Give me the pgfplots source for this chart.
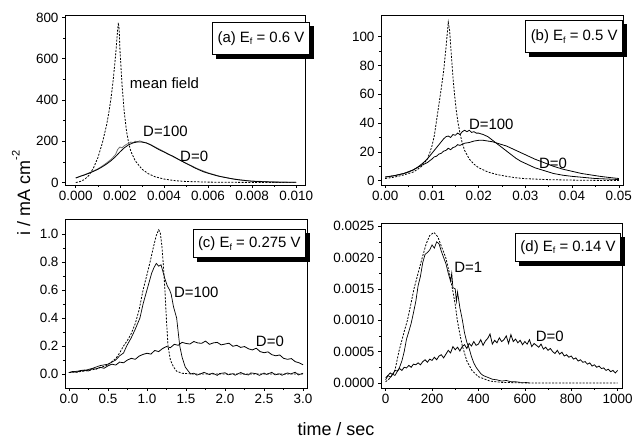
\documentclass[border=0pt]{standalone}
\usepackage{fontspec}
\setmainfont{Liberation Sans}
\usepackage{pgfplots}
\pgfplotsset{compat=1.18}

\pgfplotsset{
  panel/.style={
    scale only axis, anchor=south west,
    axis line style={line width=0.8bp},
    tick style={line width=0.6bp, black},
    major tick length=3bp, minor tick length=2bp,
    tick align=outside,
    xtick pos=left, ytick pos=left,
    ticklabel style={font=\fontsize{13.5}{13.5}\selectfont},
    /pgf/number format/assume math mode=true,
    /pgf/number format/1000 sep={},
    scaled ticks=false,
    clip mode=individual,
    minor x tick num=1, minor y tick num=1,
  },
  meanf/.style={black, line width=0.8bp, dash pattern=on 2bp off 1.4bp},
  solidc/.style={black, line width=0.8bp},
}
\tikzset{
  ebox/.style={draw, line width=0.9bp, fill=white, font=\fontsize{15}{15}\selectfont,
    inner xsep=5bp, inner ysep=7bp, anchor=north east},
  lab/.style={font=\fontsize{15}{15}\selectfont, inner sep=0pt, anchor=west},
}
\newcommand{\Ef}{E\raisebox{-0.35ex}{\fontsize{9}{9}\selectfont f}}
% #1 = extra options, #2 = position, #3 = text
\newcommand{\shadowbox}[3]{%
  \node[ebox, #1, fill=black, xshift=4bp, yshift=-4bp] at (#2) {\phantom{#3}};
  \node[ebox, #1] at (#2) {#3};}

\begin{document}
\begin{tikzpicture}
\useasboundingbox (0bp,0bp) rectangle (636bp,440bp);

% ---------------- (a)
\begin{axis}[panel, at={(65bp,255bp)}, width=240bp, height=170bp,
  xmin=-0.00049, xmax=0.0104, ymin=-12, ymax=812,
  xtick={0,0.002,0.004,0.006,0.008,0.01}, ytick={0,200,400,600,800},
  xticklabel style={/pgf/number format/fixed, /pgf/number format/fixed zerofill, /pgf/number format/precision=3}]
\addplot[meanf] coordinates {
(0,0) (0.0002,5) (0.0004,15) (0.0006,35) (0.0008,70) (0.001,120) (0.0012,190)
(0.0014,280) (0.0015,340) (0.0016,410) (0.0017,500) (0.0018,610) (0.0019,740)
(0.00193,775) (0.00197,740) (0.002,650) (0.0021,470) (0.0022,340) (0.0023,250)
(0.0024,190) (0.0025,150) (0.0027,105) (0.003,65) (0.0033,42) (0.0036,28)
(0.004,17) (0.0045,9) (0.005,5) (0.006,2) (0.007,1) (0.008,0.5) (0.01,0)};
\addplot[black!55, line width=0.8bp] coordinates {
(0,22) (0.0004,38) (0.0008,56) (0.001,66) (0.0012,80) (0.0014,95) (0.0016,112)
(0.0018,135) (0.0019,160) (0.002,172) (0.0021,168) (0.0022,178) (0.0023,185)
(0.0024,190) (0.0025,196) (0.0026,193) (0.0027,200) (0.0028,197) (0.0029,202)
(0.003,198) (0.0032,192) (0.0034,184) (0.0036,172) (0.004,150) (0.0045,120)
(0.005,94) (0.0055,68) (0.006,47) (0.0065,31) (0.007,20) (0.0075,12) (0.008,7)
(0.009,3) (0.01,1)};
\addplot[solidc] coordinates {
(0,22) (0.0002,30) (0.0004,37) (0.0006,45) (0.0008,54) (0.001,64) (0.0012,76)
(0.0014,90) (0.0016,106) (0.0018,125) (0.002,148) (0.0022,168) (0.0024,183)
(0.0026,192) (0.0028,197) (0.003,196) (0.0032,192) (0.0034,182) (0.0036,170)
(0.0038,158) (0.004,148) (0.0042,137) (0.0044,128) (0.0046,116) (0.0048,104)
(0.005,93) (0.0052,82) (0.0054,71) (0.0056,61) (0.0058,52) (0.006,45)
(0.0062,39) (0.0064,33) (0.0066,28) (0.0068,24) (0.007,20) (0.0072,16)
(0.0075,12) (0.008,6) (0.0085,4) (0.009,2) (0.0095,1.5) (0.01,1)};
\node[lab] at (axis cs:0.00245,483) {mean field};
\node[lab] at (axis cs:0.00305,250) {D=100};
\node[lab] at (axis cs:0.00473,129) {D=0};
\shadowbox{inner ysep=9bp}{rel axis cs:1.02,0.96}{(a) \Ef{} = 0.6 V}
\end{axis}

% ---------------- (b)
\begin{axis}[panel, at={(381bp,255bp)}, width=242bp, height=170bp,
  xmin=-0.0009, xmax=0.0509, ymin=-3, ymax=115,
  xtick={0,0.01,0.02,0.03,0.04,0.05}, ytick={0,20,40,60,80,100},
  xticklabel style={/pgf/number format/fixed, /pgf/number format/fixed zerofill, /pgf/number format/precision=2}]
\addplot[meanf] coordinates {
(0,1.5) (0.002,2.5) (0.004,4) (0.006,6) (0.007,8) (0.008,10.5) (0.009,15)
(0.0095,19) (0.01,24) (0.0105,31) (0.011,42) (0.0115,53) (0.012,64) (0.0125,76)
(0.013,92) (0.0135,110) (0.0138,104) (0.0142,85) (0.0145,72) (0.0148,61)
(0.0152,49) (0.0156,40) (0.016,33) (0.0165,26) (0.017,21) (0.018,15)
(0.019,11.5) (0.02,9) (0.022,6) (0.024,4.2) (0.026,3) (0.028,2) (0.03,1.4)
(0.035,0.7) (0.04,0.4) (0.045,0.2) (0.05,0.1)};
\addplot[solidc] coordinates {
(0,2.5) (0.002,3.5) (0.004,5) (0.005,6) (0.006,7.5) (0.007,9.5) (0.008,12)
(0.009,15) (0.01,19) (0.011,23) (0.012,27) (0.0125,29) (0.013,30.5) (0.0135,31)
(0.014,30) (0.0145,32) (0.015,31.5) (0.0155,33) (0.016,32) (0.0165,34) (0.017,35)
(0.0175,34) (0.018,35) (0.0185,33.5) (0.019,34) (0.0195,33) (0.02,33) (0.021,32)
(0.022,30.5) (0.023,28) (0.024,25.5) (0.025,23) (0.026,20.5) (0.027,18)
(0.028,15.5) (0.029,13.5) (0.03,12) (0.032,9) (0.034,7) (0.036,5) (0.038,3.8)
(0.04,3) (0.045,1.5) (0.05,0.8)};
\addplot[solidc] coordinates {
(0,2.5) (0.002,3.5) (0.004,5) (0.006,7.5) (0.008,11) (0.009,12.5) (0.01,15)
(0.0105,16.5) (0.011,17) (0.0115,18.5) (0.012,19) (0.0125,20.5) (0.013,21)
(0.0135,22.5) (0.014,21.5) (0.0145,23) (0.015,23.5) (0.0155,25) (0.016,24.5)
(0.017,26) (0.018,26.5) (0.019,27.5) (0.02,28) (0.021,28) (0.022,27.5)
(0.023,27) (0.024,26) (0.025,25) (0.026,24) (0.027,22.5) (0.028,21) (0.029,19.5)
(0.03,18) (0.032,15) (0.034,12.5) (0.036,10) (0.038,8) (0.04,6.5) (0.042,5)
(0.044,4) (0.046,3) (0.048,2.2) (0.05,1.5)};
\node[lab] at (axis cs:0.0179,39.4) {D=100};
\node[lab] at (axis cs:0.0329,12) {D=0};
\shadowbox{inner ysep=9bp}{rel axis cs:1.0,0.97}{(b) \Ef{} = 0.5 V}
\end{axis}

% ---------------- (c)
\begin{axis}[panel, at={(65bp,52bp)}, width=242bp, height=169bp,
  xmin=-0.05, xmax=3.05, ymin=-0.1, ymax=1.107,
  xtick={0,0.5,1,1.5,2,2.5,3}, ytick={0,0.2,0.4,0.6,0.8,1},
  xticklabel style={/pgf/number format/fixed, /pgf/number format/fixed zerofill, /pgf/number format/precision=1},
  yticklabel style={/pgf/number format/fixed, /pgf/number format/fixed zerofill, /pgf/number format/precision=1}]
\addplot[meanf] coordinates {
(0,0.01) (0.2,0.02) (0.3,0.03) (0.4,0.045) (0.5,0.065) (0.6,0.11) (0.65,0.15)
(0.7,0.2) (0.75,0.24) (0.8,0.29) (0.85,0.36) (0.9,0.46) (0.95,0.6) (1.0,0.71)
(1.04,0.8) (1.08,0.9) (1.12,0.99) (1.15,1.03) (1.17,1.01) (1.19,0.92)
(1.21,0.78) (1.23,0.6) (1.25,0.38) (1.27,0.2) (1.3,0.1) (1.34,0.05)
(1.38,0.02) (1.45,0.005) (1.6,0) (3.0,0)};
\addplot[solidc, line width=0.7bp] coordinates {
(0,0.01) (0.1,0.02) (0.2,0.025) (0.3,0.04) (0.4,0.06) (0.5,0.07) (0.6,0.1)
(0.65,0.13) (0.7,0.15) (0.74,0.2) (0.8,0.26) (0.85,0.32) (0.91,0.4) (0.95,0.5)
(1.0,0.6) (1.03,0.66) (1.06,0.72) (1.09,0.76) (1.12,0.79) (1.15,0.77)
(1.18,0.78) (1.2,0.74) (1.23,0.68) (1.26,0.63) (1.29,0.6) (1.31,0.57)
(1.34,0.48) (1.38,0.4) (1.4,0.3) (1.42,0.2) (1.45,0.12) (1.49,0.05) (1.53,0.02)
(1.56,0.0) (1.6,0.006) (1.64,-0.008) (1.7,0.004) (1.73,0.012) (1.8,-0.004)
(1.84,0.006) (1.9,-0.01) (1.93,0.003) (2.0,0.009) (2.04,-0.006) (2.1,0.002)
(2.13,-0.009) (2.2,0.011) (2.24,0.0) (2.3,-0.007) (2.33,0.008) (2.4,0.002)
(2.44,-0.01) (2.5,0.007) (2.53,-0.003) (2.6,0.012) (2.64,-0.006) (2.7,0.001)
(2.73,-0.009) (2.8,0.008) (2.84,0.0) (2.9,0.013) (2.94,-0.007) (3.0,0.006)};
\addplot[solidc] coordinates {
(0,0.01) (0.05,0.018) (0.1,0.012) (0.15,0.025) (0.2,0.028) (0.25,0.022)
(0.3,0.038) (0.35,0.035) (0.4,0.048) (0.45,0.041) (0.5,0.058) (0.55,0.07)
(0.6,0.064) (0.65,0.085) (0.7,0.08) (0.75,0.1) (0.8,0.112) (0.85,0.105)
(0.9,0.128) (0.95,0.14) (1.0,0.148) (1.05,0.142) (1.1,0.168) (1.15,0.16)
(1.2,0.182) (1.25,0.196) (1.3,0.188) (1.35,0.212) (1.4,0.205) (1.45,0.226)
(1.5,0.218) (1.55,0.214) (1.6,0.232) (1.65,0.222) (1.7,0.219) (1.75,0.235)
(1.8,0.212) (1.85,0.222) (1.9,0.226) (1.95,0.208) (2.0,0.214) (2.05,0.22)
(2.1,0.198) (2.15,0.205) (2.2,0.19) (2.25,0.196) (2.3,0.18) (2.35,0.172)
(2.4,0.184) (2.45,0.16) (2.5,0.152) (2.55,0.158) (2.6,0.138) (2.65,0.13)
(2.7,0.136) (2.75,0.112) (2.8,0.105) (2.85,0.11) (2.9,0.088) (2.95,0.08)
(3.0,0.066)};
\node[lab] at (axis cs:1.344,0.58) {D=100};
\node[lab] at (axis cs:2.394,0.232) {D=0};
\shadowbox{}{rel axis cs:0.996,0.939}{(c) \Ef{} = 0.275 V}
\end{axis}

% ---------------- (d)
\begin{axis}[panel, at={(381bp,52bp)}, width=241bp, height=165bp,
  xmin=-20, xmax=1019, ymin=-0.00008, ymax=0.00255,
  xtick={0,200,400,600,800,1000}, ytick={0,0.0005,0.001,0.0015,0.002,0.0025},
  yticklabel style={/pgf/number format/fixed, /pgf/number format/fixed zerofill, /pgf/number format/precision=4}]
\addplot[meanf] coordinates {
(0,0.00002) (20,0.00008) (40,0.0002) (57,0.0005) (70,0.00068) (80,0.00082)
(94,0.001) (110,0.00128) (122,0.0015) (140,0.00175) (158,0.002) (175,0.00222)
(190,0.00235) (208,0.0024) (225,0.00233) (240,0.00218) (259,0.002)
(275,0.00175) (288,0.0015) (300,0.00125) (309,0.001) (320,0.00078)
(330,0.0006) (338,0.0005) (350,0.00035) (372,0.0002) (400,0.0001)
(450,0.00003) (500,0.00001) (600,0) (1000,0)};
\addplot[solidc, line width=0.7bp] coordinates {
(0,0.00005) (10,0.00012) (20,0.00009) (30,0.00014) (40,0.00012) (50,0.00018)
(60,0.00025) (70,0.00035) (80,0.0005) (90,0.0007) (100,0.00082) (110,0.00095)
(120,0.00112) (130,0.0013) (140,0.00155) (150,0.0017) (160,0.00192)
(170,0.00205) (180,0.00208) (190,0.00212) (200,0.0022) (210,0.00215)
(220,0.00225) (230,0.00222) (240,0.0021) (250,0.002) (260,0.0019)
(270,0.00175) (280,0.00162) (285,0.00175) (290,0.00152) (300,0.0015)
(305,0.0013) (310,0.00145) (320,0.0012) (330,0.00102) (340,0.0008)
(350,0.00065) (360,0.00055) (370,0.00042) (380,0.00032) (390,0.00025)
(400,0.0002) (410,0.00015) (420,0.00012) (440,0.00009) (460,0.00006)
(480,0.00005) (500,0.00003) (520,0.00004) (540,0.00002) (560,0.00002)
(580,0.00001) (600,0.00001) (620,0)};
\addplot[solidc] coordinates {
(0,0.00008) (10,0.00012) (20,0.00016) (30,0.00013) (40,0.0002) (50,0.00019)
(60,0.00023) (70,0.0002) (80,0.00025) (90,0.00024) (100,0.00028) (110,0.00025)
(120,0.0003) (130,0.00029) (140,0.00032) (150,0.00029) (160,0.00034)
(170,0.00037) (180,0.00033) (190,0.00038) (200,0.00036) (210,0.00041)
(220,0.00037) (230,0.00043) (240,0.00045) (250,0.0004) (260,0.00046)
(270,0.00052) (280,0.00048) (290,0.00058) (300,0.00053) (310,0.00057)
(320,0.00051) (330,0.00058) (340,0.00061) (350,0.00055) (360,0.00063)
(370,0.00059) (380,0.00066) (390,0.0006) (400,0.00062) (410,0.00069)
(420,0.0006) (430,0.00067) (440,0.00071) (450,0.00078) (460,0.00062)
(470,0.00068) (480,0.00064) (490,0.00072) (500,0.00066) (510,0.00069)
(520,0.00075) (530,0.00063) (540,0.00077) (550,0.00066) (560,0.0007)
(570,0.00064) (580,0.00068) (590,0.00061) (600,0.00066) (610,0.00062)
(620,0.00069) (630,0.00058) (640,0.00063) (650,0.0006) (660,0.00057)
(670,0.00062) (680,0.00054) (690,0.00057) (700,0.00052) (710,0.00055)
(720,0.0005) (730,0.00047) (740,0.00052) (750,0.00046) (760,0.00049)
(770,0.00043) (780,0.00045) (790,0.00041) (800,0.00043) (810,0.00038)
(820,0.0004) (830,0.00035) (840,0.00037) (850,0.00033) (860,0.00034)
(870,0.0003) (880,0.00032) (890,0.00027) (900,0.00029) (910,0.00025)
(920,0.00027) (930,0.00023) (940,0.00024) (950,0.0002) (960,0.00022)
(970,0.00018) (980,0.0002) (990,0.00016) (1000,0.0002)};
\node[lab] at (axis cs:295,0.00184) {D=1};
\node[lab] at (axis cs:647,0.000744) {D=0};
\shadowbox{}{rel axis cs:0.996,0.941}{(d) \Ef{} = 0.14 V}
\end{axis}

\node[rotate=90, anchor=base, font=\fontsize{18}{18}\selectfont] at (30bp,247bp)
  {i / mA cm\raisebox{1.1ex}{\fontsize{11}{11}\selectfont -2}};
\node[anchor=base, font=\fontsize{18}{18}\selectfont] at (336bp,5bp) {time / sec};
\end{tikzpicture}
\end{document}
